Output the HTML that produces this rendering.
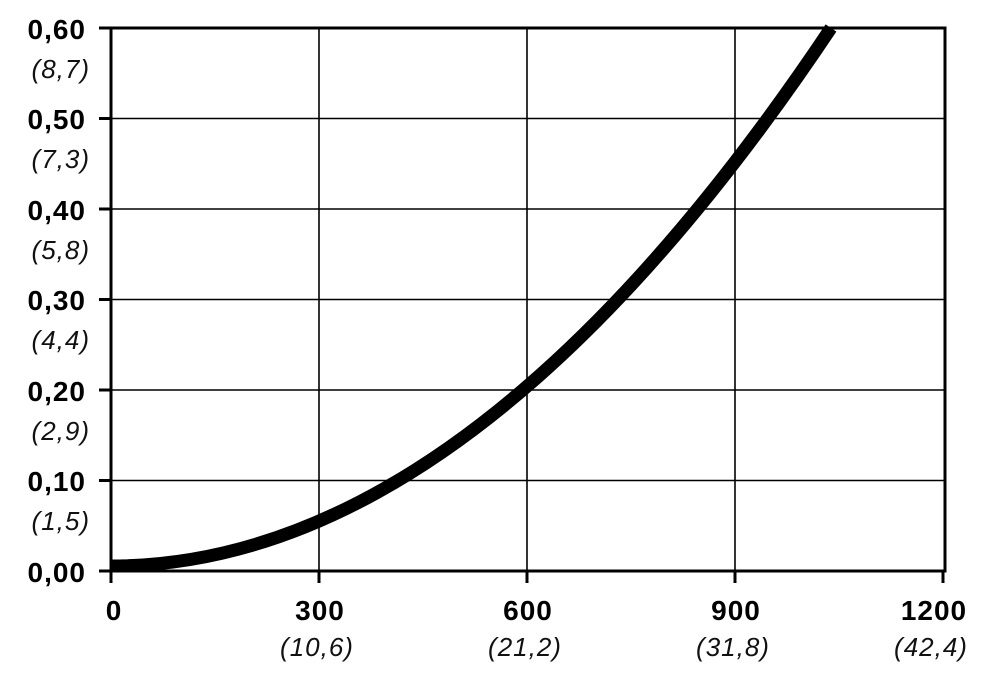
<!DOCTYPE html>
<html><head><meta charset="utf-8"><style>body{margin:0;background:#fff}svg{display:block}</style></head>
<body>
<svg width="1000" height="691" xmlns="http://www.w3.org/2000/svg" font-family="Liberation Sans, sans-serif">
<g stroke="#000" stroke-width="1.6">
<line x1="319" y1="28" x2="319" y2="571"/><line x1="527" y1="28" x2="527" y2="571"/><line x1="735" y1="28" x2="735" y2="571"/>
<line x1="111" y1="118.5" x2="945" y2="118.5"/><line x1="111" y1="209" x2="945" y2="209"/><line x1="111" y1="299.5" x2="945" y2="299.5"/>
<line x1="111" y1="390" x2="945" y2="390"/><line x1="111" y1="480.5" x2="945" y2="480.5"/>
</g>
<g stroke="#000" stroke-width="3">
<rect x="111" y="28" width="834" height="543" fill="none"/>
<line x1="99" y1="28" x2="111" y2="28"/><line x1="99" y1="118.5" x2="111" y2="118.5"/><line x1="99" y1="209" x2="111" y2="209"/><line x1="99" y1="299.5" x2="111" y2="299.5"/><line x1="99" y1="390" x2="111" y2="390"/><line x1="99" y1="480.5" x2="111" y2="480.5"/><line x1="99" y1="571" x2="111" y2="571"/>
<line x1="111" y1="571" x2="111" y2="583"/><line x1="319" y1="571" x2="319" y2="583"/><line x1="527" y1="571" x2="527" y2="583"/><line x1="735" y1="571" x2="735" y2="583"/><line x1="943" y1="571" x2="943" y2="583"/>
</g>
<path fill="none" stroke="#000" stroke-width="13" d="M111,566 Q471,566 831,28"/>
<g font-size="28" font-weight="bold" text-anchor="end" letter-spacing="1">
<text x="86" y="39">0,60</text><text x="86" y="129">0,50</text><text x="86" y="220">0,40</text><text x="86" y="310">0,30</text><text x="86" y="401">0,20</text><text x="86" y="491">0,10</text><text x="86" y="582">0,00</text>
</g>
<g font-size="26" font-style="italic" text-anchor="end" fill="#111" letter-spacing="1">
<text x="90" y="78">(8,7)</text><text x="90" y="168">(7,3)</text><text x="90" y="259">(5,8)</text><text x="90" y="349">(4,4)</text><text x="90" y="440">(2,9)</text><text x="90" y="530">(1,5)</text>
</g>
<g font-size="28" font-weight="bold" text-anchor="middle" letter-spacing="1">
<text x="114" y="620">0</text><text x="320" y="620">300</text><text x="528" y="620">600</text><text x="736" y="620">900</text><text x="934" y="620">1200</text>
</g>
<g font-size="26" font-style="italic" text-anchor="middle" fill="#111" letter-spacing="1">
<text x="317" y="656">(10,6)</text><text x="525" y="656">(21,2)</text><text x="733" y="656">(31,8)</text><text x="931" y="656">(42,4)</text>
</g>
</svg>
</body></html>
